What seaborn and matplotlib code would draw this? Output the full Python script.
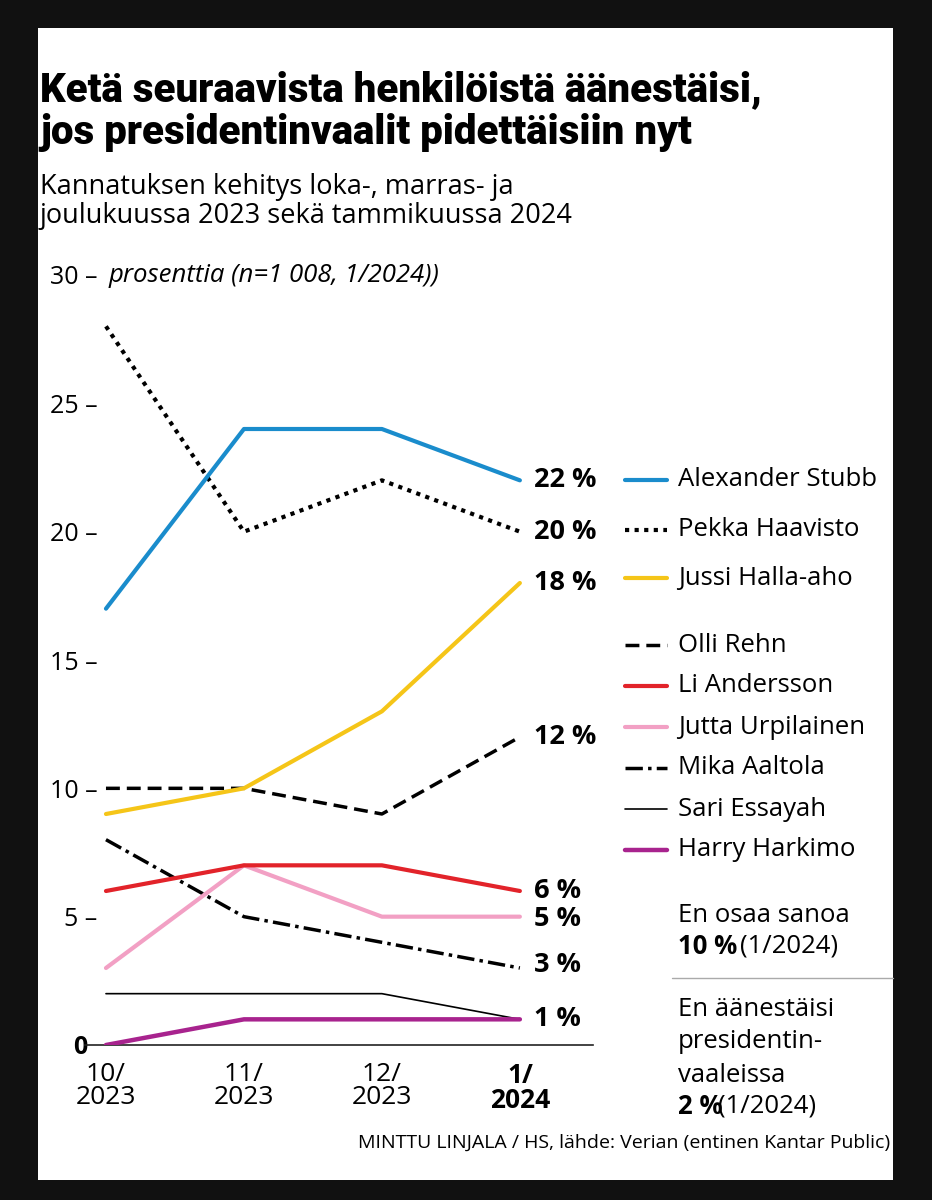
import matplotlib
matplotlib.use("Agg")
import matplotlib.pyplot as plt
import seaborn as sns
import pandas as pd

months = ["10/\n2023", "11/\n2023", "12/\n2023", "1/\n2024"]
candidates = ["Alexander Stubb", "Pekka Haavisto", "Jussi Halla-aho", "Olli Rehn",
              "Li Andersson", "Jutta Urpilainen", "Mika Aaltola", "Sari Essayah", "Harry Harkimo"]
stubb = [17, 24, 24, 22]
haavisto = [28, 20, 22, 20]
halla_aho = [9, 10, 13, 18]
rehn = [10, 10, 9, 12]
andersson = [6, 7, 7, 6]
urpilainen = [3, 7, 5, 5]
aaltola = [8, 5, 4, 3]
essayah = [2, 2, 2, 1]
harkimo = [0, 1, 1, 1]
values = [stubb, haavisto, halla_aho, rehn, andersson, urpilainen, aaltola, essayah, harkimo]
end_labels = ["22 %", "20 %", "18 %", "12 %", "6 %", "5 %", "3 %", "1 %"]
end_label_y = [22, 20, 18, 12, 6, 4.9, 3.1, 1]
yticks = [0, 5, 10, 15, 20, 25, 30]

colors = ["#1a8ccc", "black", "#f5c518", "black", "#e2232a", "#f2a0c4", "black", "black", "#a8238e"]
styles = ["-", (0, (1, 1.3)), "-", (0, (4, 2)), "-", "-", (0, (5, 1.5, 1, 1.5)), "-", "-"]
widths = [3, 3, 3, 2.5, 3, 3, 2.5, 1.2, 3.2]

sns.set_theme(style="white")
FONT = ["Open Sans", "DejaVu Sans"]
plt.rcParams["font.family"] = FONT
plt.rcParams["text.color"] = "black"
plt.rcParams["xtick.color"] = "black"
plt.rcParams["ytick.color"] = "black"

W, H = 932, 1200
fig = plt.figure(figsize=(W / 100, H / 100), dpi=100, facecolor="#111111")
fig.patches.append(plt.Rectangle((38 / W, 1 - 1180 / H), (893 - 38) / W, (1180 - 28) / H,
                                 transform=fig.transFigure, facecolor="white", edgecolor="none", zorder=0))

def fx(px): return px / W
def fy(py): return 1 - py / H

ax = fig.add_axes([fx(85), fy(1045), fx(593 - 85), (1045 - 275) / H])
ax.set_facecolor("none")
for i, (name, vals) in enumerate(zip(candidates, values)):
    df = pd.DataFrame({"x": range(4), "y": vals})
    sns.lineplot(data=df, x="x", y="y", ax=ax, color=colors[i], linestyle=styles[i],
                 linewidth=widths[i], zorder=10 - i if i != 8 else 11)
ax.set_xlim(-0.152, 3.53)
ax.set_ylim(0, 30)
ax.set_xlabel("")
ax.set_ylabel("")
for s in ["top", "right", "left"]:
    ax.spines[s].set_visible(False)
ax.spines["bottom"].set_color("#222222")
ax.spines["bottom"].set_linewidth(1.2)
ax.set_xticks(range(4))
ax.set_xticklabels(months, fontsize=19, linespacing=0.9)
ax.get_xticklabels()[3].set_fontweight("bold")
ax.tick_params(axis="x", length=10, width=1, color="#222222", direction="out", pad=2)
ax.set_yticks(yticks)
ylabs = ["0"] + [f"{v} –" for v in yticks[1:]]
ax.set_yticklabels(ylabs, fontsize=18)
ax.get_yticklabels()[0].set_fontweight("bold")
ax.tick_params(axis="y", length=0, pad=-9)
ax.get_yticklabels()[0].set_x(-0.02)
ax.set_zorder(2)

for lab, yv in zip(end_labels, end_label_y):
    ax.text(3.1, yv, lab, fontsize=19.5, fontweight="bold", va="center", ha="left")

ax.text(0.02, 30, "prosenttia (n=1 008, 1/2024))", fontsize=18.5, style="italic", va="center", ha="left")

# legend
leg_y = [480, 530, 578, 645, 686, 727, 768, 809, 850]
for i, name in enumerate(candidates):
    fig.add_artist(plt.Line2D([fx(625), fx(667)], [fy(leg_y[i])] * 2, color=colors[i],
                              linestyle=styles[i], linewidth=widths[i], transform=fig.transFigure))
    fig.text(fx(678), fy(leg_y[i]), name, fontsize=18.5, va="center", ha="left")

fig.text(fx(678), fy(916), "En osaa sanoa", fontsize=18.5, va="center")
fig.text(fx(678), fy(946), "10 %", fontsize=18.5, va="center", fontweight="bold")
fig.text(fx(740), fy(946), "(1/2024)", fontsize=18.5, va="center")
fig.add_artist(plt.Line2D([fx(672), fx(893)], [fy(978)] * 2, color="#aaaaaa", linewidth=1,
                          transform=fig.transFigure))
for t, yy in [("En äänestäisi", 1010), ("presidentin-", 1042), ("vaaleissa", 1075)]:
    fig.text(fx(678), fy(yy), t, fontsize=18.5, va="center")
fig.text(fx(678), fy(1106), "2 %", fontsize=18.5, va="center", fontweight="bold")
fig.text(fx(718), fy(1106), "(1/2024)", fontsize=18.5, va="center")

TF = ["Roboto", "DejaVu Sans"]
fig.text(fx(40), fy(90), "Ketä seuraavista henkilöistä äänestäisi,", fontsize=29,
         fontweight="black", va="center", family=TF)
fig.text(fx(40), fy(133), "jos presidentinvaalit pidettäisiin nyt", fontsize=29,
         fontweight="black", va="center", family=TF)
fig.text(fx(40), fy(187), "Kannatuksen kehitys loka-, marras- ja", fontsize=19.5, va="center")
fig.text(fx(40), fy(216), "joulukuussa 2023 sekä tammikuussa 2024", fontsize=19.5, va="center")
fig.text(fx(890), fy(1143), "MINTTU LINJALA / HS, lähde: Verian (entinen Kantar Public)",
         fontsize=14, va="center", ha="right")

fig.savefig("out.png", dpi=100, facecolor=fig.get_facecolor())
